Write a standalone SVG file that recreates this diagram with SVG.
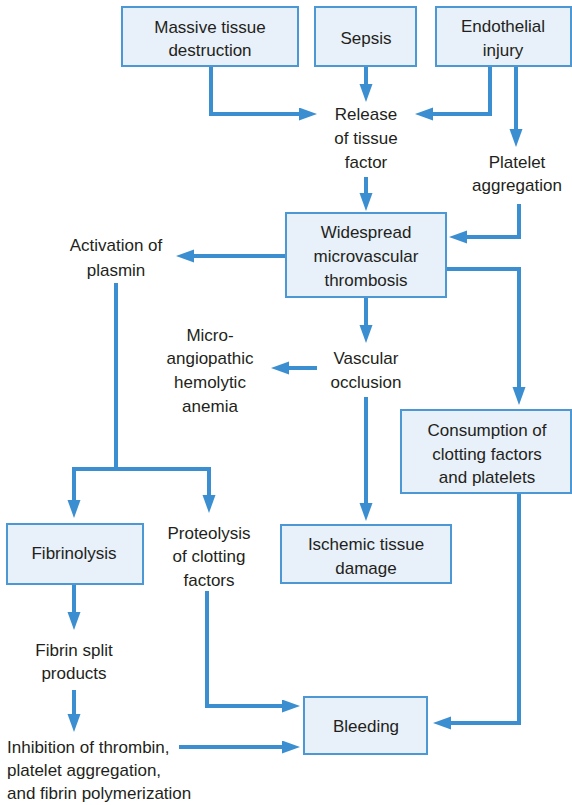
<svg xmlns="http://www.w3.org/2000/svg" width="572" height="805" viewBox="0 0 572 805">
<style>
.box{fill:#e8f0f9;stroke:#4b98d5;stroke-width:2}
.t{font-family:"Liberation Sans",Arial,sans-serif;font-size:17px;fill:#231f20;text-anchor:middle}
.l{text-anchor:start}
.c{fill:none;stroke:#3b8fd1;stroke-width:4;marker-end:url(#ah)}
.n{fill:none;stroke:#3b8fd1;stroke-width:4}
</style>
<defs>
<marker id="ah" markerUnits="userSpaceOnUse" markerWidth="20" markerHeight="14" refX="10" refY="6.5" orient="auto">
<path d="M0,0 L18,6.5 L0,13 z" fill="#3b8fd1"/>
</marker>
</defs>
<rect width="572" height="805" fill="#fff"/>
<g id="connectors">
<path class="c" d="M211,66 V114 H309"/>
<path class="c" d="M366,66 V94"/>
<path class="c" d="M490,66 V114 H423"/>
<path class="c" d="M516,66 V139"/>
<path class="c" d="M366,177 V203"/>
<path class="c" d="M519,204 V237 H457"/>
<path class="c" d="M286,256 H184"/>
<path class="c" d="M366,297 V335"/>
<path class="c" d="M446,269 H519 V397"/>
<path class="c" d="M317,368 H279"/>
<path class="c" d="M366,397 V513"/>
<path class="c" d="M116,283 V469 H74 V510"/>
<path class="c" d="M116,469 H209 V505"/>
<path class="c" d="M74,584 V622"/>
<path class="c" d="M74,690 V724"/>
<path class="c" d="M179,747 H292"/>
<path class="c" d="M207,591 V706 H292"/>
<path class="c" d="M519,493 V723 H441"/>
</g>
<g id="massive">
<rect class="box" x="122" y="7" width="176" height="59"/>
<text class="t" x="210" y="33">Massive tissue</text>
<text class="t" x="210" y="56">destruction</text>
</g>
<g id="sepsis">
<rect class="box" x="315" y="7" width="101" height="59"/>
<text class="t" x="366" y="44">Sepsis</text>
</g>
<g id="endothelial">
<rect class="box" x="436" y="7" width="135" height="59"/>
<text class="t" x="503" y="32">Endothelial</text>
<text class="t" x="503" y="56">injury</text>
</g>
<g id="release">
<text class="t" x="366" y="120">Release</text>
<text class="t" x="366" y="144">of tissue</text>
<text class="t" x="366" y="168">factor</text>
</g>
<g id="platelet">
<text class="t" x="517" y="168">Platelet</text>
<text class="t" x="517" y="191">aggregation</text>
</g>
<g id="widespread">
<rect class="box" x="286" y="213" width="160" height="84"/>
<text class="t" x="366" y="238">Widespread</text>
<text class="t" x="366" y="262">microvascular</text>
<text class="t" x="366" y="286">thrombosis</text>
</g>
<g id="activation">
<text class="t" x="116" y="251">Activation of</text>
<text class="t" x="116" y="276">plasmin</text>
</g>
<g id="micro">
<text class="t" x="210" y="341">Micro-</text>
<text class="t" x="210" y="364">angiopathic</text>
<text class="t" x="210" y="388">hemolytic</text>
<text class="t" x="210" y="412">anemia</text>
</g>
<g id="vascular">
<text class="t" x="366" y="364">Vascular</text>
<text class="t" x="366" y="388">occlusion</text>
</g>
<g id="consumption">
<rect class="box" x="401" y="410" width="170" height="83"/>
<text class="t" x="487" y="436">Consumption of</text>
<text class="t" x="487" y="460">clotting factors</text>
<text class="t" x="487" y="483">and platelets</text>
</g>
<g id="ischemic">
<rect class="box" x="281" y="525" width="170" height="58"/>
<text class="t" x="366" y="550">Ischemic tissue</text>
<text class="t" x="366" y="574">damage</text>
</g>
<g id="fibrinolysis">
<rect class="box" x="7" y="524" width="136" height="60"/>
<text class="t" x="74" y="559">Fibrinolysis</text>
</g>
<g id="proteolysis">
<text class="t" x="209" y="539">Proteolysis</text>
<text class="t" x="209" y="562">of clotting</text>
<text class="t" x="209" y="586">factors</text>
</g>
<g id="fibrinsplit">
<text class="t" x="74" y="656">Fibrin split</text>
<text class="t" x="74" y="679">products</text>
</g>
<g id="inhibition">
<text class="t l" x="7" y="753">Inhibition of thrombin,</text>
<text class="t l" x="7" y="776">platelet aggregation,</text>
<text class="t l" x="7" y="799">and fibrin polymerization</text>
</g>
<g id="bleeding">
<rect class="box" x="304" y="697" width="123" height="57"/>
<text class="t" x="366" y="732">Bleeding</text>
</g>
</svg>
